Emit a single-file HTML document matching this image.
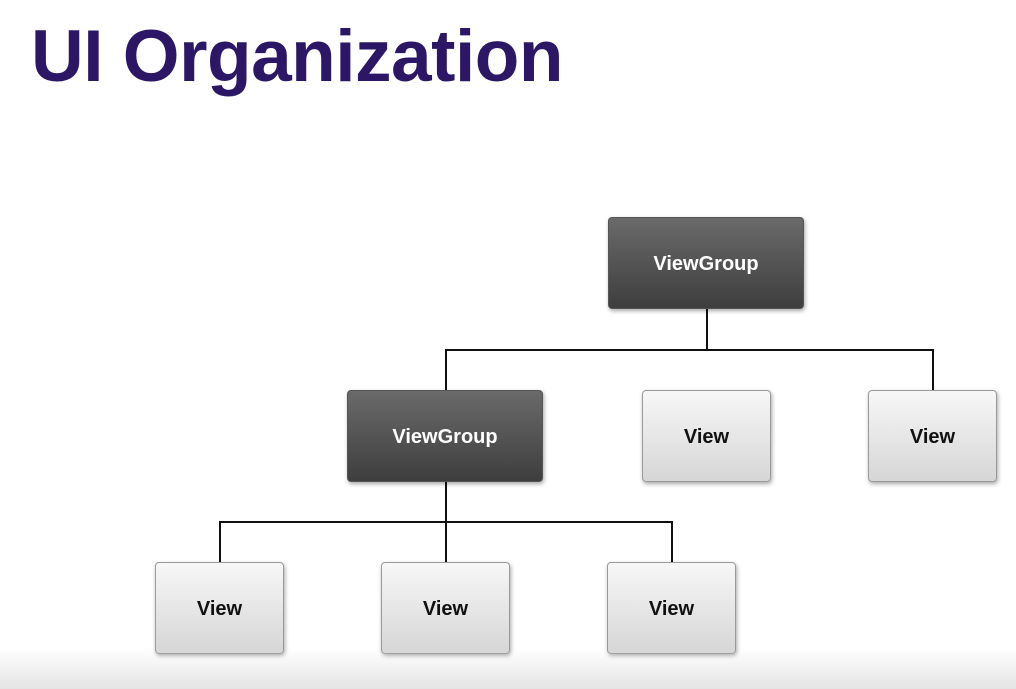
<!DOCTYPE html>
<html><head><style>
body{margin:0;width:1016px;height:689px;background:#fff;position:relative;overflow:hidden;font-family:"Liberation Sans",Arial,sans-serif}
h1{position:absolute;left:31px;top:15px;margin:0;font-size:73px;font-weight:bold;color:#2b1765;letter-spacing:-0.5px}
.b{position:absolute;box-sizing:border-box;border-radius:4px;display:flex;align-items:center;justify-content:center;font-weight:bold;font-size:20px;padding-top:3px;box-shadow:1px 2px 4px rgba(0,0,0,.35)}
.g{width:196px;height:92px;background:linear-gradient(#6a6a6a,#3e3e3e);color:#fff;border:1px solid #555}
.v{width:129px;height:92px;background:linear-gradient(#f7f7f7,#d6d6d6);color:#111;border:1px solid #999}
.l{position:absolute;background:#111}
.fade{position:absolute;left:0;right:0;bottom:0;height:40px;background:linear-gradient(rgba(255,255,255,0),#e4e4e4)}
</style></head><body>
<h1>UI Organization</h1>
<div class="l" style="left:706px;top:309px;width:2px;height:42px"></div>
<div class="l" style="left:445px;top:349px;width:489px;height:2px"></div>
<div class="l" style="left:445px;top:349px;width:2px;height:42px"></div>
<div class="l" style="left:932px;top:349px;width:2px;height:42px"></div>
<div class="l" style="left:445px;top:482px;width:2px;height:82px"></div>
<div class="l" style="left:219px;top:521px;width:454px;height:2px"></div>
<div class="l" style="left:219px;top:521px;width:2px;height:42px"></div>
<div class="l" style="left:671px;top:521px;width:2px;height:42px"></div>
<div class="b g" style="left:608px;top:217px">ViewGroup</div>
<div class="b g" style="left:347px;top:390px">ViewGroup</div>
<div class="b v" style="left:642px;top:390px">View</div>
<div class="b v" style="left:868px;top:390px">View</div>
<div class="b v" style="left:155px;top:562px">View</div>
<div class="b v" style="left:381px;top:562px">View</div>
<div class="b v" style="left:607px;top:562px">View</div>
<div class="fade"></div>
</body></html>
